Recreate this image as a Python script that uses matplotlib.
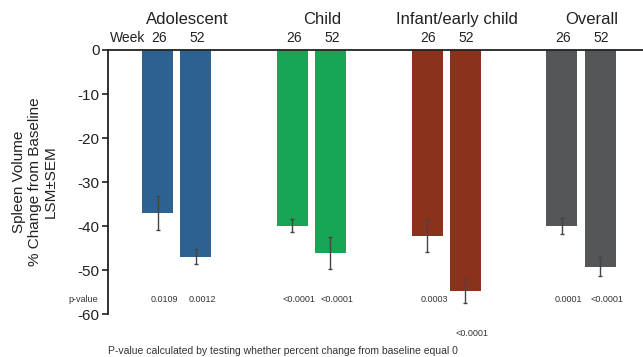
import numpy as np
import matplotlib.pyplot as plt

plt.rcParams['font.family'] = ['Liberation Sans', 'DejaVu Sans']

groups = ['Adolescent', 'Child', 'Infant/early child', 'Overall']
weeks = ['26', '52']
colors = ['#2d6190', '#17a655', '#8b321d', '#555657']

# LSM % change from baseline (week 26, week 52) and SEM
lsm_26 = [-37.0, -39.9, -42.2, -39.9]
lsm_52 = [-47.0, -46.1, -54.7, -49.2]
sem_26 = [3.9, 1.5, 3.7, 1.8]
sem_52 = [1.7, 3.6, 2.7, 2.1]
pval_26 = ['0.0109', '<0.0001', '0.0003', '0.0001']
pval_52 = ['0.0012', '<0.0001', '<0.0001', '<0.0001']

fig = plt.figure(figsize=(6.43, 3.57), dpi=100)
ax = fig.add_axes([0.168, 0.12, 0.832, 0.74])

x = np.arange(len(groups))
off = 0.141
w = 0.23

for i in range(len(groups)):
    for j, (vals, errs, pv) in enumerate([(lsm_26, sem_26, pval_26), (lsm_52, sem_52, pval_52)]):
        xp = x[i] + (-off if j == 0 else off)
        ax.bar(xp, vals[i], width=w, color=colors[i], zorder=2)
        ax.errorbar(xp, vals[i], yerr=errs[i], fmt='none', ecolor='#444444',
                    elinewidth=1, capsize=1.5, capthick=1, zorder=3)
        # week label above the axis
        ax.text(xp + 0.01, 1.1, weeks[j], ha='center', va='bottom', fontsize=10, color='#222222')
        # p-value under the bar (below the bar if it is too deep)
        ypv = -56.6
        if vals[i] - errs[i] < -55:
            ypv = -64.5
        ax.text(xp + 0.05, ypv, pv[i], ha='center', va='center', fontsize=6.5,
                color='#333333', clip_on=False)
    ax.text(x[i] + 0.08, 5.2, groups[i], ha='center', va='bottom', fontsize=12, color='#222222')

ax.text(-0.235, 1.1, 'Week', ha='right', va='bottom', fontsize=10, color='#222222')
ax.text(-0.047, -56.6, 'p-value', transform=ax.get_yaxis_transform(), ha='center', va='center',
        fontsize=6.5, color='#333333')

ax.set_xlim(-0.509, 3.46)
ax.set_ylim(-60, 0)
ax.set_yticks(np.arange(-60, 1, 10))
ax.set_yticklabels([str(v) for v in range(-60, 1, 10)], fontsize=11, color='#222222')
ax.set_xticks([])
ax.tick_params(axis='y', direction='out', length=4, width=1.2, colors='#222222', pad=2)
ax.spines['right'].set_visible(False)
ax.spines['bottom'].set_visible(False)
ax.spines['left'].set_linewidth(1.3)
ax.spines['top'].set_linewidth(1.3)
ax.spines['left'].set_color('#222222')
ax.spines['top'].set_color('#222222')

ax.text(-0.137, 0.5, 'Spleen Volume\n% Change from Baseline\nLSM±SEM', transform=ax.transAxes,
        rotation=90, ha='center', va='center', fontsize=11, color='#222222',
        multialignment='center', linespacing=1.15)

fig.text(108 / 643, 1 - 351 / 357, 'P-value calculated by testing whether percent change from baseline equal 0',
         ha='left', va='center', fontsize=7.5, color='#333333')

fig.savefig('out.png', dpi=100)
